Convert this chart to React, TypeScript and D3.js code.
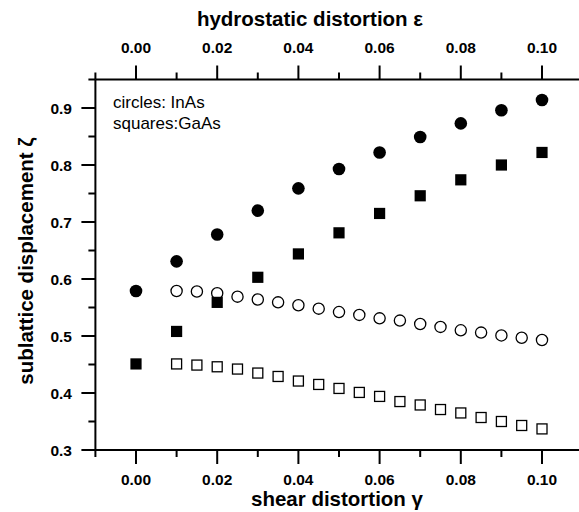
import React from "react";
import * as d3 from "d3";

// Data
const xFilled = [0.0, 0.01, 0.02, 0.03, 0.04, 0.05, 0.06, 0.07, 0.08, 0.09, 0.1];
const inAsFilled = [0.579, 0.631, 0.678, 0.72, 0.759, 0.793, 0.822, 0.849, 0.873, 0.896, 0.914];
const gaAsFilled = [0.451, 0.508, 0.559, 0.603, 0.644, 0.681, 0.715, 0.746, 0.774, 0.8, 0.822];
const xOpen = [0.01, 0.015, 0.02, 0.025, 0.03, 0.035, 0.04, 0.045, 0.05, 0.055, 0.06, 0.065, 0.07, 0.075, 0.08, 0.085, 0.09, 0.095, 0.1];
const inAsOpen = [0.579, 0.578, 0.575, 0.569, 0.564, 0.559, 0.554, 0.548, 0.542, 0.537, 0.531, 0.527, 0.521, 0.516, 0.51, 0.506, 0.501, 0.497, 0.493];
const gaAsOpen = [0.451, 0.449, 0.446, 0.442, 0.435, 0.429, 0.421, 0.415, 0.408, 0.401, 0.394, 0.385, 0.379, 0.371, 0.365, 0.357, 0.35, 0.343, 0.337];
const xMajorTicks = [0.0, 0.02, 0.04, 0.06, 0.08, 0.1];
const xMinorTicks = [-0.01, 0.01, 0.03, 0.05, 0.07, 0.09, 0.11];
const yMajorTicks = [0.3, 0.4, 0.5, 0.6, 0.7, 0.8, 0.9];
const yMinorTicks = [0.35, 0.45, 0.55, 0.65, 0.75, 0.85, 0.95];
const legendLines = ["circles: InAs", "squares:GaAs"];

const W = 579;
const H = 512;
const x = d3.scaleLinear().domain([-0.01, 0.11]).range([95.4, 582.6]);
const y = d3.scaleLinear().domain([0.3, 0.95]).range([450, 79.5]);

const FONT = "'Liberation Sans', Arial, Helvetica, sans-serif";
const MAJ = 14;
const MIN = 7;
const SW = 2;

export default function App() {
  const left = x(-0.01);
  const bottom = y(0.3);
  const top = y(0.95);
  const fmtX = d3.format(".2f");
  const fmtY = d3.format(".1f");
  return (
    <svg
      width={W}
      height={H}
      style={{ position: "absolute", left: 0, top: 0, background: "#fff" }}
      fontFamily={FONT}
    >
      <rect x={0} y={0} width={W} height={H} fill="#fff" />
      {/* axis lines */}
      <line x1={left} x2={W + 5} y1={bottom} y2={bottom} stroke="#000" strokeWidth={SW} />
      <line x1={left} x2={W + 5} y1={top} y2={top} stroke="#000" strokeWidth={SW} />
      <line x1={left} x2={left} y1={top} y2={bottom} stroke="#000" strokeWidth={SW} />
      {/* bottom ticks */}
      {xMajorTicks.map((t) => (
        <line key={"bM" + t} x1={x(t)} x2={x(t)} y1={bottom} y2={bottom + MAJ} stroke="#000" strokeWidth={SW} />
      ))}
      {xMinorTicks.map((t) => (
        <line key={"bm" + t} x1={x(t)} x2={x(t)} y1={bottom} y2={bottom + MIN} stroke="#000" strokeWidth={SW} />
      ))}
      {/* top ticks */}
      {xMajorTicks.map((t) => (
        <line key={"tM" + t} x1={x(t)} x2={x(t)} y1={top} y2={top - MAJ} stroke="#000" strokeWidth={SW} />
      ))}
      {xMinorTicks.map((t) => (
        <line key={"tm" + t} x1={x(t)} x2={x(t)} y1={top} y2={top - MIN} stroke="#000" strokeWidth={SW} />
      ))}
      {/* left ticks */}
      {yMajorTicks.map((t) => (
        <line key={"lM" + t} x1={left - MAJ} x2={left} y1={y(t)} y2={y(t)} stroke="#000" strokeWidth={SW} />
      ))}
      {yMinorTicks.map((t) => (
        <line key={"lm" + t} x1={left - MIN} x2={left} y1={y(t)} y2={y(t)} stroke="#000" strokeWidth={SW} />
      ))}
      {/* tick labels */}
      {xMajorTicks.map((t) => (
        <text key={"bl" + t} x={x(t)} y={485} textAnchor="middle" fontSize={15.5} fontWeight="bold">
          {fmtX(t)}
        </text>
      ))}
      {xMajorTicks.map((t) => (
        <text key={"tl" + t} x={x(t)} y={53} textAnchor="middle" fontSize={15.5} fontWeight="bold">
          {fmtX(t)}
        </text>
      ))}
      {yMajorTicks.map((t) => (
        <text key={"ll" + t} x={72} y={y(t)} dy="0.36em" textAnchor="end" fontSize={15.5} fontWeight="bold">
          {fmtY(t)}
        </text>
      ))}
      {/* titles */}
      <text x={310} y={26} textAnchor="middle" fontSize={20.5} fontWeight="bold">
        hydrostatic distortion ε
      </text>
      <text x={337} y={506} textAnchor="middle" fontSize={20.5} fontWeight="bold">
        shear distortion γ
      </text>
      <text
        transform={`translate(33,261) rotate(-90)`}
        textAnchor="middle"
        fontSize={20.5}
        fontWeight="bold"
      >
        sublattice displacement ζ
      </text>
      {/* legend text */}
      {legendLines.map((s, i) => (
        <text key={s} x={113} y={108 + i * 21} fontSize={17}>
          {s}
        </text>
      ))}
      {/* open markers */}
      {xOpen.map((t, i) => (
        <circle key={"oc" + i} cx={x(t)} cy={y(inAsOpen[i])} r={5.6} fill="#fff" stroke="#000" strokeWidth={1.3} />
      ))}
      {xOpen.map((t, i) => (
        <rect key={"os" + i} x={x(t) - 5} y={y(gaAsOpen[i]) - 5} width={10} height={10} fill="#fff" stroke="#000" strokeWidth={1.3} />
      ))}
      {/* filled markers */}
      {xFilled.map((t, i) => (
        <circle key={"fc" + i} cx={x(t)} cy={y(inAsFilled[i])} r={6.3} fill="#000" />
      ))}
      {xFilled.map((t, i) => (
        <rect key={"fs" + i} x={x(t) - 5.6} y={y(gaAsFilled[i]) - 5.6} width={11.2} height={11.2} fill="#000" />
      ))}
    </svg>
  );
}
